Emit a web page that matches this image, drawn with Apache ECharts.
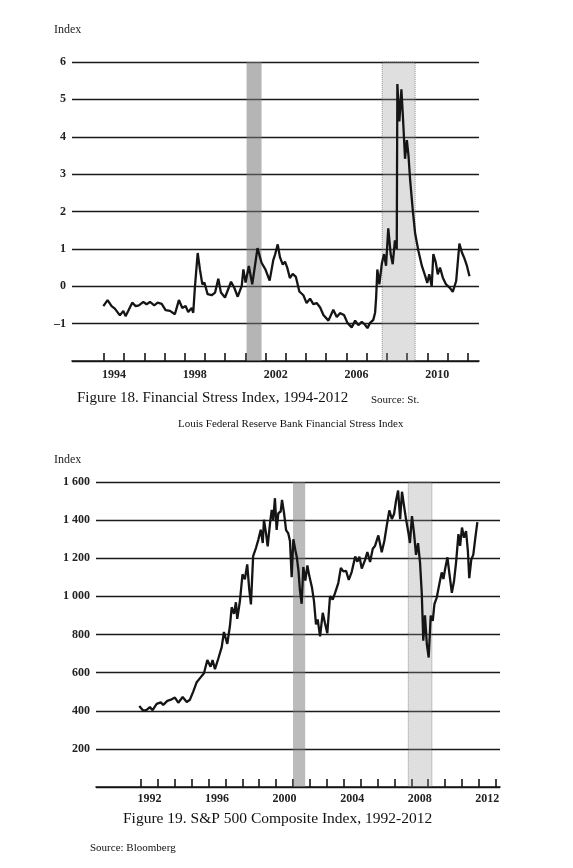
<!DOCTYPE html>
<html>
<head>
<meta charset="utf-8">
<script src="https://cdn.jsdelivr.net/npm/echarts@6/dist/echarts.min.js"></script>
<style>
html,body{margin:0;padding:0;background:#fff;}
#chart{width:573px;height:868px;}
</style>
</head>
<body>
<div id="chart"></div>
<script>
// ---- Figure 18: Financial Stress Index ----
const fsiYears = [1993.97,1994.18,1994.38,1994.54,1994.79,1994.96,1995.07,1995.2,1995.4,1995.57,1995.73,1995.95,1996.11,1996.28,1996.49,1996.66,1996.86,1997.05,1997.27,1997.51,1997.71,1997.88,1998.04,1998.17,1998.34,1998.42,1998.5,1998.64,1998.75,1998.87,1998.97,1999.13,1999.33,1999.5,1999.66,1999.79,1999.99,2000.12,2000.29,2000.45,2000.62,2000.82,2000.9,2001.01,2001.17,2001.34,2001.6,2001.8,2001.99,2002.2,2002.38,2002.47,2002.6,2002.71,2002.85,2002.96,2003.07,2003.2,2003.34,2003.5,2003.67,2003.87,2004.03,2004.2,2004.36,2004.53,2004.7,2004.86,2005.11,2005.35,2005.52,2005.68,2005.88,2006.05,2006.26,2006.43,2006.59,2006.76,2006.92,2007.04,2007.17,2007.33,2007.42,2007.47,2007.53,2007.63,2007.75,2007.86,2007.96,2008.07,2008.19,2008.29,2008.4,2008.49,2008.52,2008.62,2008.72,2008.79,2008.9,2008.99,2009.07,2009.15,2009.28,2009.4,2009.56,2009.73,2009.9,2010.0,2010.1,2010.22,2010.3,2010.42,2010.52,2010.63,2010.77,2010.93,2011.13,2011.26,2011.43,2011.59,2011.71,2011.82,2011.96,2012.09];
const fsiValues = [-0.53,-0.37,-0.53,-0.6,-0.78,-0.66,-0.8,-0.66,-0.44,-0.53,-0.51,-0.42,-0.48,-0.42,-0.51,-0.44,-0.47,-0.64,-0.66,-0.75,-0.37,-0.58,-0.53,-0.69,-0.58,-0.71,-0.04,0.89,0.45,0.05,0.1,-0.21,-0.24,-0.17,0.2,-0.17,-0.3,-0.12,0.12,-0.04,-0.28,0.01,0.45,0.1,0.54,0.05,1.02,0.63,0.45,0.15,0.7,0.85,1.12,0.78,0.58,0.66,0.5,0.22,0.33,0.25,-0.14,-0.24,-0.45,-0.33,-0.48,-0.45,-0.57,-0.77,-0.92,-0.63,-0.82,-0.72,-0.77,-0.98,-1.1,-0.92,-1.04,-0.95,-1.03,-1.12,-0.98,-0.9,-0.7,-0.3,0.45,0.05,0.6,0.86,0.55,1.55,0.86,0.59,1.23,1.0,5.41,4.41,5.27,4.59,3.41,3.91,3.5,2.86,2.05,1.41,0.95,0.55,0.27,0.09,0.32,0.0,0.86,0.64,0.32,0.5,0.23,0.05,-0.05,-0.15,0.14,1.14,0.91,0.77,0.55,0.27];
const fsiTickYears = [1994,1995,1996,1997,1998,1999,2000,2001,2002,2003,2004,2005,2006,2007,2008,2009,2010,2011,2012];
const fsiLabelYears = [1994,1998,2002,2006,2010];
const fsiRecessions = [[2001.06,2001.8],[2007.77,2009.4]];

// ---- Figure 19: S&P 500 Composite Index ----
const spxYears = [1991.9,1992.14,1992.34,1992.53,1992.69,1992.93,1993.17,1993.32,1993.56,1993.82,1994.01,1994.21,1994.47,1994.71,1994.9,1995.1,1995.3,1995.53,1995.73,1995.93,1996.12,1996.24,1996.38,1996.58,1996.78,1996.91,1997.11,1997.27,1997.37,1997.51,1997.62,1997.7,1997.86,1998.01,1998.15,1998.29,1998.41,1998.51,1998.64,1998.81,1998.95,1999.09,1999.21,1999.28,1999.4,1999.5,1999.64,1999.74,1999.83,1999.93,2000.03,2000.13,2000.27,2000.35,2000.47,2000.59,2000.72,2000.82,2000.92,2001.02,2001.14,2001.22,2001.32,2001.41,2001.51,2001.61,2001.73,2001.85,2001.96,2002.12,2002.24,2002.36,2002.46,2002.6,2002.76,2002.89,2003.03,2003.19,2003.35,2003.49,2003.68,2003.83,2003.98,2004.14,2004.3,2004.48,2004.68,2004.81,2004.93,2005.07,2005.26,2005.4,2005.56,2005.72,2005.85,2006.05,2006.25,2006.41,2006.55,2006.7,2006.85,2006.98,2007.1,2007.22,2007.34,2007.45,2007.57,2007.69,2007.83,2007.92,2008.04,2008.16,2008.28,2008.4,2008.52,2008.62,2008.71,2008.81,2008.92,2009.03,2009.15,2009.27,2009.37,2009.51,2009.66,2009.8,2009.9,2010.0,2010.14,2010.26,2010.4,2010.53,2010.65,2010.79,2010.89,2011.0,2011.12,2011.24,2011.35,2011.43,2011.55,2011.67,2011.79,2011.91];
const spxValues = [425,400,405,419,403,436,444,431,452,460,469,442,472,446,458,502,550,575,597,666,631,666,618,674,734,813,751,847,943,908,969,882,977,1116,1090,1168,1037,958,1211,1255,1298,1350,1280,1402,1332,1262,1384,1454,1401,1515,1349,1436,1445,1506,1436,1348,1330,1290,1100,1300,1242,1208,1137,1031,961,1154,1083,1162,1109,1047,976,853,879,790,914,860,807,1001,983,1018,1070,1149,1131,1134,1086,1130,1209,1182,1208,1146,1190,1233,1180,1250,1264,1320,1232,1293,1372,1451,1406,1432,1503,1555,1405,1549,1475,1404,1334,1280,1421,1333,1218,1279,1174,1015,768,900,749,679,899,872,960,995,1065,1126,1091,1143,1205,1116,1019,1081,1177,1327,1265,1361,1308,1343,1237,1096,1193,1219,1307,1390];
const spxTickYears = [1992,1993,1994,1995,1996,1997,1998,1999,2000,2001,2002,2003,2004,2005,2006,2007,2008,2009,2010,2011,2012,2013];
const spxLabelYears = [1992,1996,2000,2004,2008,2012];
const spxRecessions = [[2001.0,2001.72],[2007.82,2009.22]];

const SERIF = "'Liberation Serif', 'DejaVu Serif', serif";
const INK = '#151515';

function zip(xs, ys){ return xs.map((x,i)=>[x, ys[i]]); }
function bands(list, colors){
  return list.map((r,i)=>[{xAxis:r[0], itemStyle:{color:colors[i], borderColor:'rgba(60,60,60,0.5)', borderWidth:i===1?1:0, borderType:'dotted'}},{xAxis:r[1]}]);
}
function fmtThousands(v){
  if (v === 0) return '';
  const s = String(v);
  return v >= 1000 ? s.slice(0, s.length-3) + ' ' + s.slice(-3) : s;
}

const chart = echarts.init(document.getElementById('chart'), null, {renderer:'canvas'});

const xAxisCommon = (min, max, ticks, labels, margin) => ({
  type:'value', min, max,
  axisLine:{show:true, onZero:false, lineStyle:{color:INK, width:1.6}},
  axisTick:{show:true, inside:true, length:8, customValues:ticks, lineStyle:{color:INK, width:1.6}},
  axisLabel:{customValues:labels.map(y=>y+0.5), formatter:v=>String(Math.floor(v)), margin, color:'#222', fontFamily:SERIF, fontSize:12, fontWeight:'bold'},
  splitLine:{show:false}
});

const option = {
  animation:false,
  backgroundColor:'#fff',
  title:[
    {text:'Index', left:54, top:24, padding:0, textStyle:{fontFamily:SERIF, fontSize:12, fontWeight:'normal', color:'#222'}},
    {text:'Figure 18. Financial Stress Index, 1994-2012', left:77, top:391, padding:0, textStyle:{fontFamily:SERIF, fontSize:15, fontWeight:'normal', color:'#111'}},
    {text:'Source: St.', left:371, top:395, padding:0, textStyle:{fontFamily:SERIF, fontSize:11, fontWeight:'normal', color:'#111'}},
    {text:'Louis Federal Reserve Bank Financial Stress Index', left:178, top:419, padding:0, textStyle:{fontFamily:SERIF, fontSize:11, fontWeight:'normal', color:'#111'}},
    {text:'Index', left:54, top:454, padding:0, textStyle:{fontFamily:SERIF, fontSize:12, fontWeight:'normal', color:'#222'}},
    {text:'Figure 19. S&P 500 Composite Index, 1992-2012', left:123, top:811, padding:0, textStyle:{fontFamily:SERIF, fontSize:15.5, fontWeight:'normal', color:'#111'}},
    {text:'Source: Bloomberg', left:90, top:843, padding:0, textStyle:{fontFamily:SERIF, fontSize:11, fontWeight:'normal', color:'#111'}}
  ],
  grid:[
    {left:72, right:94, top:62, height:299},
    {left:96, right:73, top:482, height:305}
  ],
  xAxis:[
    Object.assign({gridIndex:0}, xAxisCommon(1992.42, 2012.56, fsiTickYears, fsiLabelYears, 8)),
    Object.assign({gridIndex:1}, xAxisCommon(1989.34, 2013.25, spxTickYears, spxLabelYears, 6))
  ],
  yAxis:[
    {gridIndex:0, type:'value', min:-2, max:6, interval:1,
     axisLine:{show:false}, axisTick:{show:false},
     axisLabel:{formatter:v=> v===-2 ? '' : (v<0 ? '\u2013'+Math.abs(v) : String(v)), margin:6, color:'#222', fontFamily:SERIF, fontSize:12, fontWeight:'bold'},
     splitLine:{show:true, lineStyle:{color:'#1a1a1a', width:1.3}}},
    {gridIndex:1, type:'value', min:0, max:1600, interval:200,
     axisLine:{show:false}, axisTick:{show:false},
     axisLabel:{formatter:fmtThousands, margin:6, color:'#222', fontFamily:SERIF, fontSize:12, fontWeight:'bold'},
     splitLine:{show:true, lineStyle:{color:'#1a1a1a', width:1.3}}}
  ],
  series:[
    {type:'line', name:'Financial Stress Index', xAxisIndex:0, yAxisIndex:0, data:zip(fsiYears, fsiValues),
     showSymbol:false, symbol:'none', lineStyle:{color:INK, width:2.3}, z:5,
     markArea:{silent:true, data:bands(fsiRecessions, ['rgba(120,120,120,0.55)','rgba(150,150,150,0.3)'])}},
    {type:'line', name:'S&P 500', xAxisIndex:1, yAxisIndex:1, data:zip(spxYears, spxValues),
     showSymbol:false, symbol:'none', lineStyle:{color:INK, width:2.3}, z:5,
     markArea:{silent:true, data:bands(spxRecessions, ['rgba(120,120,120,0.5)','rgba(150,150,150,0.3)'])}}
  ]
};
chart.setOption(option);
</script>
</body>
</html>
